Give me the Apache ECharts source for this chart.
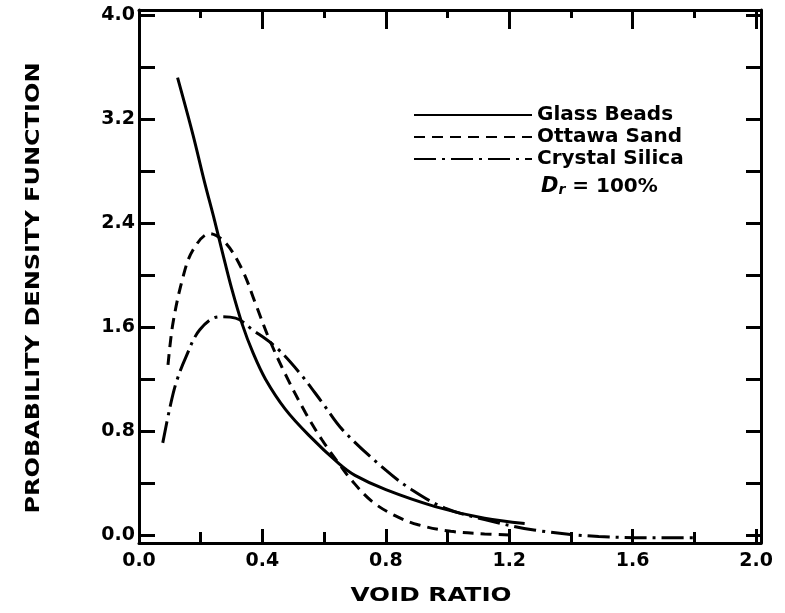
<!DOCTYPE html>
<html>
<head>
<meta charset="utf-8">
<script src="https://cdn.jsdelivr.net/npm/echarts@6/dist/echarts.min.js"></script>
<style>html,body{margin:0;padding:0;background:#fff;}#c{width:785px;height:613px;}</style>
</head>
<body>
<div id="c"></div>
<script>
var seriesNames = ['Glass Beads', 'Ottawa Sand', 'Crystal Silica'];
var glassX = [0.125, 0.175, 0.212, 0.245, 0.271, 0.30, 0.335, 0.37, 0.41, 0.474, 0.55, 0.648, 0.70, 0.80, 0.96, 1.12, 1.25];
var glassY = [3.52, 3.08, 2.72, 2.42, 2.17, 1.90, 1.62, 1.40, 1.20, 0.97, 0.77, 0.55, 0.46, 0.35, 0.22, 0.13, 0.09];
var sandX = [0.094, 0.11, 0.142, 0.174, 0.229, 0.28, 0.335, 0.378, 0.42, 0.474, 0.54, 0.594, 0.648, 0.69, 0.755, 0.83, 0.905, 1.01, 1.12, 1.22];
var sandY = [1.31, 1.63, 1.98, 2.19, 2.32, 2.25, 2.04, 1.78, 1.52, 1.24, 0.94, 0.73, 0.55, 0.42, 0.26, 0.15, 0.08, 0.03, 0.01, 0.0];
var silicaX = [0.077, 0.10, 0.12, 0.152, 0.197, 0.26, 0.313, 0.368, 0.442, 0.52, 0.594, 0.66, 0.80, 0.884, 0.99, 1.12, 1.28, 1.49, 1.71, 1.80];
var silicaY = [0.71, 0.98, 1.17, 1.37, 1.58, 1.68, 1.67, 1.58, 1.45, 1.25, 1.02, 0.81, 0.50, 0.35, 0.21, 0.12, 0.04, -0.01, -0.02, -0.02];
var yTicks = [0, 0.4, 0.8, 1.2, 1.6, 2.0, 2.4, 2.8, 3.2, 3.6, 4.0];
var yLabels = [0, 0.8, 1.6, 2.4, 3.2, 4.0];

function pairs(xs, ys) { return xs.map(function (x, i) { return [x, ys[i]]; }); }

var font = 'DejaVu Sans';
var axisLine = { show: true, onZero: false, lineStyle: { color: '#000', width: 3 } };

var chart = echarts.init(document.getElementById('c'));
chart.setOption({
  animation: false,
  backgroundColor: '#fff',
  grid: { left: 139, right: 24, top: 10, bottom: 70 },
  legend: {
    orient: 'vertical', left: 408, top: 100, itemWidth: 118, itemHeight: 14, itemGap: 2,
    data: seriesNames,
    itemStyle: { opacity: 0 },
    textStyle: { fontFamily: font, fontWeight: 'bold', fontSize: 20, color: '#000' }
  },
  xAxis: [{
    type: 'value', min: 0, max: 2.016, interval: 0.4, position: 'bottom',
    axisLine: axisLine,
    axisTick: { inside: true, length: 14, lineStyle: { color: '#000', width: 3 } },
    minorTick: { show: true, splitNumber: 2, length: 11, lineStyle: { color: '#000', width: 3 } },
    splitLine: { show: false },
    axisLabel: { margin: 9, fontFamily: font, fontWeight: 'bold', fontSize: 19, color: '#000',
      formatter: function (v) { return v.toFixed(1); } }
  }, {
    type: 'value', min: 0, max: 2.016, interval: 0.4, position: 'top',
    axisLine: axisLine,
    axisTick: { inside: true, length: 19, lineStyle: { color: '#000', width: 3 } },
    minorTick: { show: true, splitNumber: 2, length: 8, lineStyle: { color: '#000', width: 3 } },
    splitLine: { show: false }, axisLabel: { show: false }
  }],
  yAxis: [{
    type: 'value', min: -0.06, max: 4.04, position: 'left',
    axisLine: axisLine,
    axisTick: { inside: true, length: 16, customValues: yTicks, lineStyle: { color: '#000', width: 3 } },
    splitLine: { show: false },
    axisLabel: { customValues: yLabels, margin: 4, fontFamily: font, fontWeight: 'bold', fontSize: 19, color: '#000',
      formatter: function (v) { return v.toFixed(1); } }
  }, {
    type: 'value', min: -0.06, max: 4.04, position: 'right',
    axisLine: axisLine,
    axisTick: { inside: true, length: 15, customValues: yTicks, lineStyle: { color: '#000', width: 3 } },
    splitLine: { show: false }, axisLabel: { show: false }
  }],
  graphic: [
    { type: 'text', x: 431, y: 596, scaleX: 1.3,
      style: { text: 'VOID RATIO', font: 'bold 19px "DejaVu Sans"', fill: '#000', align: 'center', verticalAlign: 'middle' } },
    { type: 'text', x: 34, y: 288, rotation: Math.PI / 2, scaleX: 1.2,
      style: { text: 'PROBABILITY DENSITY FUNCTION', font: 'bold 20px "DejaVu Sans"', fill: '#000', align: 'center', verticalAlign: 'middle' } },
    { type: 'text', left: 541, top: 176,
      style: { rich: {
        d: { font: 'italic bold 21px "DejaVu Sans"', fill: '#000' },
        s: { font: 'italic bold 14px "DejaVu Sans"', fill: '#000', verticalAlign: 'bottom', padding: [8, 0, 0, 0] },
        t: { font: 'bold 20px "DejaVu Sans"', fill: '#000' }
      }, text: '{d|D}{s|r}{t| = 100%}' } }
  ],
  series: [{
    name: seriesNames[0], type: 'line', smooth: 0.35, symbol: 'none',
    itemStyle: { color: '#000' },
    lineStyle: { color: '#000', width: 3, type: 'solid' },
    data: pairs(glassX, glassY)
  }, {
    name: seriesNames[1], type: 'line', smooth: 0.35, symbol: 'none',
    itemStyle: { color: '#000' },
    lineStyle: { color: '#000', width: 3, type: [11, 7] },
    data: pairs(sandX, sandY)
  }, {
    name: seriesNames[2], type: 'line', smooth: 0.35, symbol: 'none',
    itemStyle: { color: '#000' },
    lineStyle: { color: '#000', width: 3, type: [22, 6, 3, 6] },
    data: pairs(silicaX, silicaY)
  }]
});
</script>
</body>
</html>
